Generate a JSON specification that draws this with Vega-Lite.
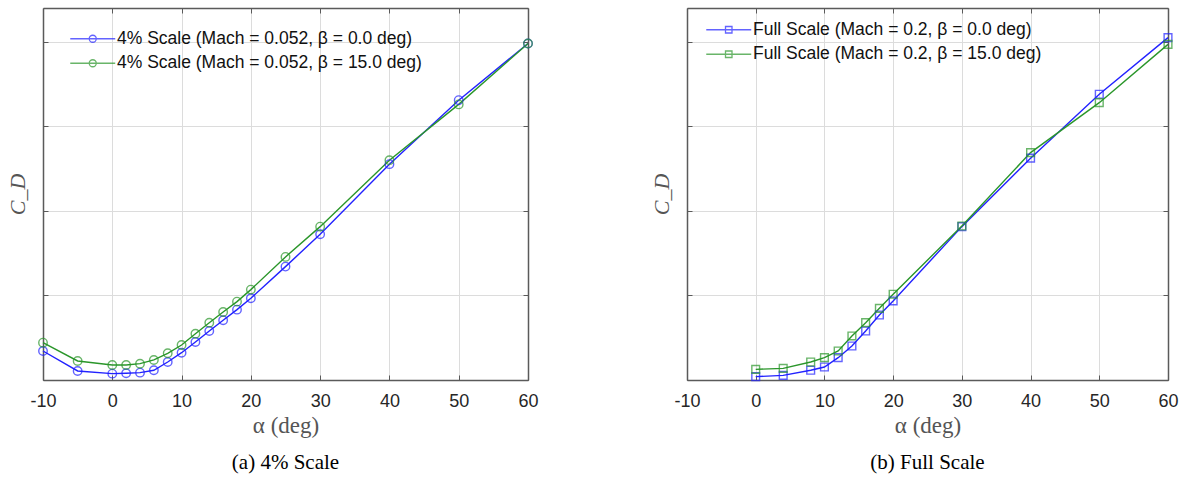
{
  "$schema": "https://vega.github.io/schema/vega-lite/v6.json",
  "padding": {"left": 6, "top": 7, "right": 5, "bottom": 5},
  "background": "white",
  "spacing": 111,
  "datasets": {
    "small": [
      {"alpha": -10, "cd": 0.343, "series": "4% Scale (Mach = 0.052, β = 0.0 deg)"},
      {"alpha": -5, "cd": 0.107, "series": "4% Scale (Mach = 0.052, β = 0.0 deg)"},
      {"alpha": 0, "cd": 0.075, "series": "4% Scale (Mach = 0.052, β = 0.0 deg)"},
      {"alpha": 2, "cd": 0.08, "series": "4% Scale (Mach = 0.052, β = 0.0 deg)"},
      {"alpha": 4, "cd": 0.087, "series": "4% Scale (Mach = 0.052, β = 0.0 deg)"},
      {"alpha": 6, "cd": 0.115, "series": "4% Scale (Mach = 0.052, β = 0.0 deg)"},
      {"alpha": 8, "cd": 0.213, "series": "4% Scale (Mach = 0.052, β = 0.0 deg)"},
      {"alpha": 10, "cd": 0.323, "series": "4% Scale (Mach = 0.052, β = 0.0 deg)"},
      {"alpha": 12, "cd": 0.45, "series": "4% Scale (Mach = 0.052, β = 0.0 deg)"},
      {"alpha": 14, "cd": 0.58, "series": "4% Scale (Mach = 0.052, β = 0.0 deg)"},
      {"alpha": 16, "cd": 0.706, "series": "4% Scale (Mach = 0.052, β = 0.0 deg)"},
      {"alpha": 18, "cd": 0.832, "series": "4% Scale (Mach = 0.052, β = 0.0 deg)"},
      {"alpha": 20, "cd": 0.967, "series": "4% Scale (Mach = 0.052, β = 0.0 deg)"},
      {"alpha": 25, "cd": 1.341, "series": "4% Scale (Mach = 0.052, β = 0.0 deg)"},
      {"alpha": 30, "cd": 1.724, "series": "4% Scale (Mach = 0.052, β = 0.0 deg)"},
      {"alpha": 40, "cd": 2.553, "series": "4% Scale (Mach = 0.052, β = 0.0 deg)"},
      {"alpha": 50, "cd": 3.31, "series": "4% Scale (Mach = 0.052, β = 0.0 deg)"},
      {"alpha": 60, "cd": 3.98, "series": "4% Scale (Mach = 0.052, β = 0.0 deg)"},
      {"alpha": -10, "cd": 0.442, "series": "4% Scale (Mach = 0.052, β = 15.0 deg)"},
      {"alpha": -5, "cd": 0.225, "series": "4% Scale (Mach = 0.052, β = 15.0 deg)"},
      {"alpha": 0, "cd": 0.178, "series": "4% Scale (Mach = 0.052, β = 15.0 deg)"},
      {"alpha": 2, "cd": 0.178, "series": "4% Scale (Mach = 0.052, β = 15.0 deg)"},
      {"alpha": 4, "cd": 0.193, "series": "4% Scale (Mach = 0.052, β = 15.0 deg)"},
      {"alpha": 6, "cd": 0.237, "series": "4% Scale (Mach = 0.052, β = 15.0 deg)"},
      {"alpha": 8, "cd": 0.316, "series": "4% Scale (Mach = 0.052, β = 15.0 deg)"},
      {"alpha": 10, "cd": 0.414, "series": "4% Scale (Mach = 0.052, β = 15.0 deg)"},
      {"alpha": 12, "cd": 0.548, "series": "4% Scale (Mach = 0.052, β = 15.0 deg)"},
      {"alpha": 14, "cd": 0.678, "series": "4% Scale (Mach = 0.052, β = 15.0 deg)"},
      {"alpha": 16, "cd": 0.805, "series": "4% Scale (Mach = 0.052, β = 15.0 deg)"},
      {"alpha": 18, "cd": 0.927, "series": "4% Scale (Mach = 0.052, β = 15.0 deg)"},
      {"alpha": 20, "cd": 1.069, "series": "4% Scale (Mach = 0.052, β = 15.0 deg)"},
      {"alpha": 25, "cd": 1.456, "series": "4% Scale (Mach = 0.052, β = 15.0 deg)"},
      {"alpha": 30, "cd": 1.814, "series": "4% Scale (Mach = 0.052, β = 15.0 deg)"},
      {"alpha": 40, "cd": 2.6, "series": "4% Scale (Mach = 0.052, β = 15.0 deg)"},
      {"alpha": 50, "cd": 3.26, "series": "4% Scale (Mach = 0.052, β = 15.0 deg)"},
      {"alpha": 60, "cd": 3.98, "series": "4% Scale (Mach = 0.052, β = 15.0 deg)"}
    ],
    "full": [
      {"alpha": 0, "cd": 0.04, "series": "Full Scale (Mach = 0.2, β = 0.0 deg)"},
      {"alpha": 4, "cd": 0.055, "series": "Full Scale (Mach = 0.2, β = 0.0 deg)"},
      {"alpha": 8, "cd": 0.115, "series": "Full Scale (Mach = 0.2, β = 0.0 deg)"},
      {"alpha": 10, "cd": 0.154, "series": "Full Scale (Mach = 0.2, β = 0.0 deg)"},
      {"alpha": 12, "cd": 0.264, "series": "Full Scale (Mach = 0.2, β = 0.0 deg)"},
      {"alpha": 14, "cd": 0.402, "series": "Full Scale (Mach = 0.2, β = 0.0 deg)"},
      {"alpha": 16, "cd": 0.58, "series": "Full Scale (Mach = 0.2, β = 0.0 deg)"},
      {"alpha": 18, "cd": 0.769, "series": "Full Scale (Mach = 0.2, β = 0.0 deg)"},
      {"alpha": 20, "cd": 0.935, "series": "Full Scale (Mach = 0.2, β = 0.0 deg)"},
      {"alpha": 30, "cd": 1.814, "series": "Full Scale (Mach = 0.2, β = 0.0 deg)"},
      {"alpha": 40, "cd": 2.624, "series": "Full Scale (Mach = 0.2, β = 0.0 deg)"},
      {"alpha": 50, "cd": 3.38, "series": "Full Scale (Mach = 0.2, β = 0.0 deg)"},
      {"alpha": 60, "cd": 4.05, "series": "Full Scale (Mach = 0.2, β = 0.0 deg)"},
      {"alpha": 0, "cd": 0.126, "series": "Full Scale (Mach = 0.2, β = 15.0 deg)"},
      {"alpha": 4, "cd": 0.138, "series": "Full Scale (Mach = 0.2, β = 15.0 deg)"},
      {"alpha": 8, "cd": 0.213, "series": "Full Scale (Mach = 0.2, β = 15.0 deg)"},
      {"alpha": 10, "cd": 0.264, "series": "Full Scale (Mach = 0.2, β = 15.0 deg)"},
      {"alpha": 12, "cd": 0.343, "series": "Full Scale (Mach = 0.2, β = 15.0 deg)"},
      {"alpha": 14, "cd": 0.521, "series": "Full Scale (Mach = 0.2, β = 15.0 deg)"},
      {"alpha": 16, "cd": 0.678, "series": "Full Scale (Mach = 0.2, β = 15.0 deg)"},
      {"alpha": 18, "cd": 0.848, "series": "Full Scale (Mach = 0.2, β = 15.0 deg)"},
      {"alpha": 20, "cd": 1.014, "series": "Full Scale (Mach = 0.2, β = 15.0 deg)"},
      {"alpha": 30, "cd": 1.822, "series": "Full Scale (Mach = 0.2, β = 15.0 deg)"},
      {"alpha": 40, "cd": 2.69, "series": "Full Scale (Mach = 0.2, β = 15.0 deg)"},
      {"alpha": 50, "cd": 3.28, "series": "Full Scale (Mach = 0.2, β = 15.0 deg)"},
      {"alpha": 60, "cd": 3.97, "series": "Full Scale (Mach = 0.2, β = 15.0 deg)"}
    ]
  },
  "resolve": {"scale": {"color": "independent"}, "legend": {"color": "independent"}},
  "hconcat": [
    {
      "width": 485,
      "height": 372,
      "data": {"name": "small"},
      "title": {"text": "(a) 4% Scale", "orient": "bottom"},
      "encoding": {
        "color": {
          "field": "series", "type": "nominal",
          "scale": {"domain": ["4% Scale (Mach = 0.052, β = 0.0 deg)", "4% Scale (Mach = 0.052, β = 15.0 deg)"], "range": ["#2222ff", "#2a962a"]},
          "legend": {
            "orient": "none", "legendX": 41, "legendY": 22,
            "symbolType": "M-3.46,0L3.46,0M-0.54,0A0.54,0.54,0,1,0,0.54,0A0.54,0.54,0,1,0,-0.54,0"
          }
        }
      },
      "resolve": {"axis": {"x": "independent", "y": "independent"}},
      "layer": [
        {
          "mark": {"type": "line", "strokeWidth": 1.4},
          "encoding": {
            "x": {"field": "alpha", "type": "quantitative", "scale": {"domain": [-10, 60], "nice": false},
                  "axis": {"values": [-10, 0, 10, 20, 30, 40, 50, 60], "title": "α (deg)", "orient": "bottom"}},
            "y": {"field": "cd", "type": "quantitative", "scale": {"domain": [0, 4.4], "nice": false},
                  "axis": {"values": [0, 1, 2, 3, 4], "labels": false, "title": "C_D", "orient": "left"}}
          }
        },
        {
          "mark": {"type": "point", "shape": "circle", "filled": false, "size": 72, "strokeWidth": 1.4},
          "encoding": {
            "x": {"field": "alpha", "type": "quantitative",
                  "axis": {"values": [-10, 0, 10, 20, 30, 40, 50, 60], "orient": "top", "labels": false, "title": null, "grid": false}},
            "y": {"field": "cd", "type": "quantitative",
                  "axis": {"values": [0, 1, 2, 3, 4], "orient": "right", "labels": false, "title": null, "grid": false}}
          }
        }
      ]
    },
    {
      "width": 481,
      "height": 372,
      "data": {"name": "full"},
      "title": {"text": "(b) Full Scale", "orient": "bottom"},
      "encoding": {
        "color": {
          "field": "series", "type": "nominal",
          "scale": {"domain": ["Full Scale (Mach = 0.2, β = 0.0 deg)", "Full Scale (Mach = 0.2, β = 15.0 deg)"], "range": ["#2222ff", "#2a962a"]},
          "legend": {
            "orient": "none", "legendX": 33, "legendY": 13,
            "symbolType": "M-3.46,0L3.46,0M-0.5,-0.5L0.5,-0.5L0.5,0.5L-0.5,0.5Z"
          }
        }
      },
      "resolve": {"axis": {"x": "independent", "y": "independent"}},
      "layer": [
        {
          "mark": {"type": "line", "strokeWidth": 1.4},
          "encoding": {
            "x": {"field": "alpha", "type": "quantitative", "scale": {"domain": [-10, 60], "nice": false},
                  "axis": {"values": [-10, 0, 10, 20, 30, 40, 50, 60], "title": "α (deg)", "orient": "bottom"}},
            "y": {"field": "cd", "type": "quantitative", "scale": {"domain": [0, 4.4], "nice": false},
                  "axis": {"values": [0, 1, 2, 3, 4], "labels": false, "title": "C_D", "orient": "left"}}
          }
        },
        {
          "mark": {"type": "point", "shape": "square", "filled": false, "size": 60, "strokeWidth": 1.4},
          "encoding": {
            "x": {"field": "alpha", "type": "quantitative",
                  "axis": {"values": [-10, 0, 10, 20, 30, 40, 50, 60], "orient": "top", "labels": false, "title": null, "grid": false}},
            "y": {"field": "cd", "type": "quantitative",
                  "axis": {"values": [0, 1, 2, 3, 4], "orient": "right", "labels": false, "title": null, "grid": false}}
          }
        }
      ]
    }
  ],
  "config": {
    "view": {"stroke": null},
    "axis": {
      "domainColor": "#5a5a5a", "domainWidth": 1.5,
      "tickColor": "#5a5a5a", "tickSize": -5, "tickWidth": 1,
      "gridColor": "#dcdcdc", "gridWidth": 1,
      "labelFont": "Liberation Sans", "labelFontSize": 18, "labelColor": "#262626",
      "labelPadding": 17, "labelFlush": false, "labelExpr": "'' + datum.value",
      "titleFont": "Liberation Serif", "titleFontSize": 23, "titleFontWeight": "normal", "titleColor": "#555555"
    },
    "axisX": {"titlePadding": 4},
    "axisY": {"titlePadding": 13, "titleFontStyle": "italic", "titleFontSize": 22},
    "legend": {
      "title": null, "padding": 0, "labelFont": "Liberation Sans", "labelFontSize": 17.5, "labelColor": "#111111",
      "labelLimit": 0,
      "symbolSize": 169, "symbolStrokeWidth": 1.3, "labelOffset": 15.5, "rowPadding": 5.5, "symbolFillColor": "transparent"
    },
    "title": {"font": "Liberation Serif", "fontSize": 21, "fontWeight": "normal", "color": "#000000", "offset": 15}
  }
}
